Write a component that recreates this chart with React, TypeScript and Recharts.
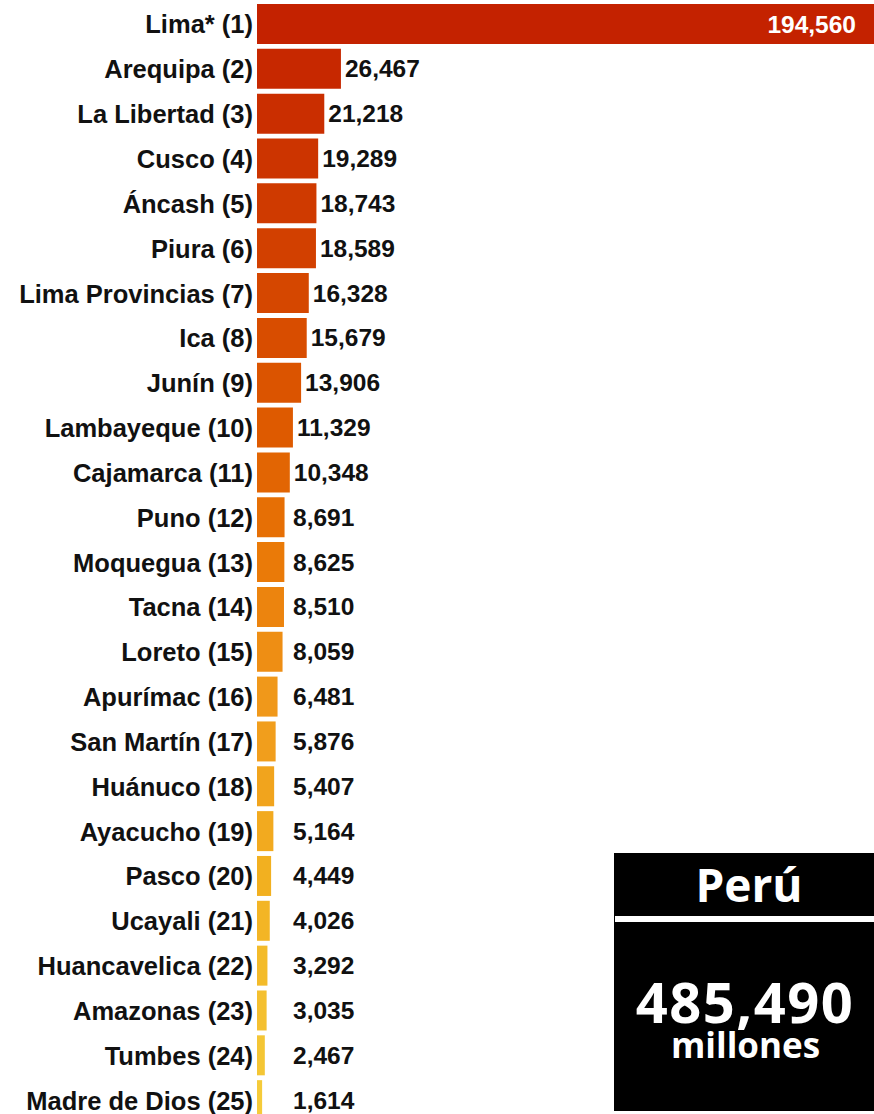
import React from "react";
import { BarChart, Bar, XAxis, YAxis, Cell, LabelList } from "recharts";

// Regiones del Perú, ordenadas por valor (millones)
const regions = [
  "Lima* (1)",
  "Arequipa (2)",
  "La Libertad (3)",
  "Cusco (4)",
  "Áncash (5)",
  "Piura (6)",
  "Lima Provincias (7)",
  "Ica (8)",
  "Junín (9)",
  "Lambayeque (10)",
  "Cajamarca (11)",
  "Puno (12)",
  "Moquegua (13)",
  "Tacna (14)",
  "Loreto (15)",
  "Apurímac (16)",
  "San Martín (17)",
  "Huánuco (18)",
  "Ayacucho (19)",
  "Pasco (20)",
  "Ucayali (21)",
  "Huancavelica (22)",
  "Amazonas (23)",
  "Tumbes (24)",
  "Madre de Dios (25)",
];

const values = [
  194560, 26467, 21218, 19289, 18743, 18589, 16328, 15679, 13906, 11329,
  10348, 8691, 8625, 8510, 8059, 6481, 5876, 5407, 5164, 4449, 4026, 3292,
  3035, 2467, 1614,
];

const totalLabel = "485,490";
const totalUnit = "millones";
const countryLabel = "Perú";

// color stops along the ranking (red -> yellow)
const STOPS: Array<[number, [number, number, number]]> = [
  [0, [196, 34, 0]],
  [4, [207, 58, 0]],
  [9, [222, 90, 0]],
  [12, [234, 122, 8]],
  [15, [240, 152, 26]],
  [19, [242, 176, 32]],
  [24, [245, 203, 58]],
];

function colorAt(i: number) {
  for (let k = 0; k < STOPS.length - 1; k++) {
    const [i0, c0] = STOPS[k];
    const [i1, c1] = STOPS[k + 1];
    if (i >= i0 && i <= i1) {
      const t = (i - i0) / (i1 - i0);
      const c = c0.map((v, j) => Math.round(v + (c1[j] - v) * t));
      return `rgb(${c[0]},${c[1]},${c[2]})`;
    }
  }
  const last = STOPS[STOPS.length - 1][1];
  return `rgb(${last[0]},${last[1]},${last[2]})`;
}

const data = regions.map((name, i) => ({ name, value: values[i] }));

const FONT = "'Liberation Sans', Arial, sans-serif";
const BOX_FONT = "'Open Sans', 'Noto Sans', sans-serif";

function ValueLabel(props: any) {
  const { x, y, width, height, value, index } = props;
  const text = Number(value).toLocaleString("en-US");
  const cy = y + height / 2;
  if (index === 0) {
    return (
      <text
        x={x + width - 18}
        y={cy}
        textAnchor="end"
        dominantBaseline="central"
        fill="#fff"
        fontFamily={FONT}
        fontWeight={700}
        fontSize={24.5}
      >
        {text}
      </text>
    );
  }
  const lx = Math.max(x + width + 4, 293);
  return (
    <text
      x={lx}
      y={cy}
      textAnchor="start"
      dominantBaseline="central"
      fill="#111"
      fontFamily={FONT}
      fontWeight={700}
      fontSize={24.5}
    >
      {text}
    </text>
  );
}

export default function App() {
  return (
    <div
      style={{
        position: "absolute",
        top: 0,
        left: 0,
        width: 874,
        height: 1114,
        overflow: "hidden",
        background: "#fff",
      }}
    >
      <BarChart
        width={874}
        height={1123}
        data={data}
        layout="vertical"
        margin={{ top: 2, right: 0, bottom: 0, left: 0 }}
        barSize={40}
      >
        <XAxis type="number" domain={[0, values[0]]} hide />
        <YAxis
          type="category"
          dataKey="name"
          width={257}
          axisLine={false}
          tickLine={false}
          tickSize={2}
          tickMargin={2}
          interval={0}
          tick={{ fill: "#111", fontSize: 25.5, fontWeight: 700, fontFamily: FONT }}
        />
        <Bar dataKey="value" isAnimationActive={false}>
          {data.map((d, i) => (
            <Cell key={d.name} fill={colorAt(i)} />
          ))}
          <LabelList dataKey="value" content={ValueLabel} />
        </Bar>
      </BarChart>

      {/* recuadro total */}
      <div
        style={{
          position: "absolute",
          left: 614,
          top: 853,
          width: 260,
          height: 258,
          background: "#000",
          color: "#fff",
          fontFamily: BOX_FONT,
          fontWeight: 700,
          textAlign: "center",
        }}
      >
        <div style={{ position: "absolute", top: 3, left: 10, right: 0, fontSize: 46, lineHeight: "56px" }}>
          {countryLabel}
        </div>
        <div style={{ position: "absolute", top: 63, left: 1, right: 0, height: 6, background: "#fff" }} />
        <div
          style={{
            position: "absolute",
            top: 125,
            left: 2,
            right: 0,
            fontSize: 56,
            lineHeight: "46px",
            letterSpacing: 1.5,
          }}
        >
          {totalLabel}
        </div>
        <div style={{ position: "absolute", top: 178, left: 3, right: 0, fontSize: 35, lineHeight: "28px" }}>
          {totalUnit}
        </div>
      </div>
    </div>
  );
}
